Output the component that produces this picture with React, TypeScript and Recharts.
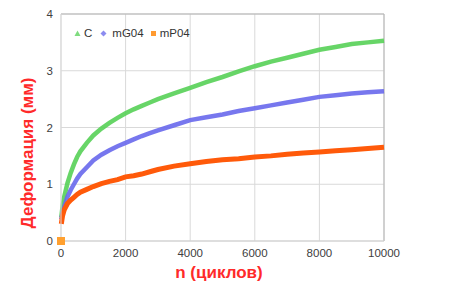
import React from "react";
import {
  ComposedChart,
  Line,
  Scatter,
  XAxis,
  YAxis,
  CartesianGrid,
  Legend,
  ReferenceLine,
} from "recharts";

// cycles (n) and deformation (mm)
const cycles = [
  10, 50, 100, 200, 300, 400, 500, 600, 800, 1000, 1250, 1500, 1750, 2000, 2250,
  2500, 2750, 3000, 3500, 4000, 4500, 5000, 5500, 6000, 6500, 7000, 7500, 8000,
  8500, 9000, 9500, 10000,
];
const seriesC = [
  0.42, 0.62, 0.78, 1.02, 1.2, 1.35, 1.48, 1.58, 1.73, 1.86, 1.98, 2.08, 2.17,
  2.25, 2.32, 2.38, 2.44, 2.5, 2.6, 2.7, 2.8, 2.89, 2.99, 3.08, 3.16, 3.23, 3.3,
  3.37, 3.42, 3.47, 3.5, 3.53,
];
const seriesMG04 = [
  0.38, 0.5, 0.6, 0.78, 0.9, 1.0, 1.1, 1.18, 1.3, 1.42, 1.52, 1.6, 1.67, 1.73,
  1.79, 1.85, 1.9, 1.95, 2.04, 2.13, 2.18, 2.23, 2.29, 2.34, 2.39, 2.44, 2.49,
  2.54, 2.57, 2.6, 2.62, 2.64,
];
const seriesMP04 = [
  0.3, 0.45, 0.55, 0.66, 0.72, 0.77, 0.82, 0.86, 0.91, 0.96, 1.01, 1.05, 1.08,
  1.13, 1.15, 1.18, 1.22, 1.26, 1.32, 1.36, 1.4, 1.43, 1.45, 1.48, 1.5, 1.53,
  1.55, 1.57, 1.59, 1.61, 1.63, 1.65,
];
const startPoint = [{ n: 0, mP04: 0 }];
const xTicks = [0, 2000, 4000, 6000, 8000, 10000];
const yTicks = [0, 1, 2, 3, 4];

const GREEN = "#56d056";
const BLUE = "#6868ec";
const ORANGE = "#ff5a0a";

const data = cycles.map((n, i) => ({
  n,
  C: seriesC[i],
  mG04: seriesMG04[i],
  mP04: seriesMP04[i],
}));

const tickStyle = { fontFamily: "Liberation Sans", fontSize: 11.5, fill: "#404040" };

const LegendBox = () => (
  <div
    style={{
      display: "flex",
      alignItems: "center",
      fontFamily: "Liberation Sans",
      fontSize: 11.5,
      color: "#333",
      whiteSpace: "nowrap",
    }}
  >
    <svg width={7} height={7} style={{ marginRight: 3 }}>
      <polygon points="3.5,0.5 6.5,6 0.5,6" fill="#7fdc7f" />
    </svg>
    <span style={{ marginRight: 8 }}>C</span>
    <svg width={7} height={7} style={{ marginRight: 5 }}>
      <polygon points="3.5,0.5 6.5,3.5 3.5,6.5 0.5,3.5" fill="#8c8cf0" />
    </svg>
    <span style={{ marginRight: 6 }}>mG04</span>
    <svg width={7} height={7} style={{ marginRight: 3 }}>
      <rect x={1} y={1} width={5} height={5} fill="#ff9a30" />
    </svg>
    <span>mP04</span>
  </div>
);

export default function App() {
  return (
    <div style={{ position: "absolute", left: 0, top: 0, background: "#fff" }}>
      <ComposedChart
        width={450}
        height={295}
        data={data}
        margin={{ top: 14, right: 66, bottom: 0, left: 0 }}
      >
        <CartesianGrid stroke="#d9d9d9" />
        <XAxis
          dataKey="n"
          type="number"
          domain={[0, 10000]}
          ticks={xTicks}
          height={54}
          tickLine={false}
          axisLine={{ stroke: "#d0d0d0" }}
          tick={tickStyle}
          label={{
            content: () => (
              <text
                x={219}
                y={278}
                textAnchor="middle"
                fontFamily="Liberation Sans"
                fontWeight="bold"
                fontSize={17}
                fill="#ff2a2a"
              >
                n (циклов)
              </text>
            ),
          }}
        />
        <YAxis
          type="number"
          domain={[0, 4]}
          ticks={yTicks}
          width={61}
          tickLine={false}
          axisLine={{ stroke: "#d9d9d9" }}
          tick={tickStyle}
          label={{
            content: () => (
              <text
                x={33}
                y={153}
                transform="rotate(-90 33 153)"
                textAnchor="middle"
                fontFamily="Liberation Sans"
                fontWeight="bold"
                fontSize={17}
                fill="#ff2a2a"
              >
                Деформация (мм)
              </text>
            ),
          }}
        />
        <ReferenceLine y={4} stroke="#b4b4b4" />
        <ReferenceLine x={10000} stroke="#b4b4b4" />
        <Legend
          layout="vertical"
          align="center"
          verticalAlign="middle"
          wrapperStyle={{ position: "absolute", top: 27, left: 74, width: "auto" }}
          content={() => <LegendBox />}
        />
        <Line
          dataKey="C"
          stroke={GREEN}
          strokeWidth={4.5}
          strokeOpacity={0.9}
          dot={false}
          isAnimationActive={false}
        />
        <Line
          dataKey="mG04"
          stroke={BLUE}
          strokeWidth={4.5}
          strokeOpacity={0.9}
          dot={false}
          isAnimationActive={false}
        />
        <Line
          dataKey="mP04"
          stroke={ORANGE}
          strokeWidth={5}
          dot={false}
          isAnimationActive={false}
        />
        <Scatter
          data={startPoint}
          dataKey="mP04"
          fill="#ffa030"
          shape="square"
          legendType="none"
          isAnimationActive={false}
        />
      </ComposedChart>
    </div>
  );
}
